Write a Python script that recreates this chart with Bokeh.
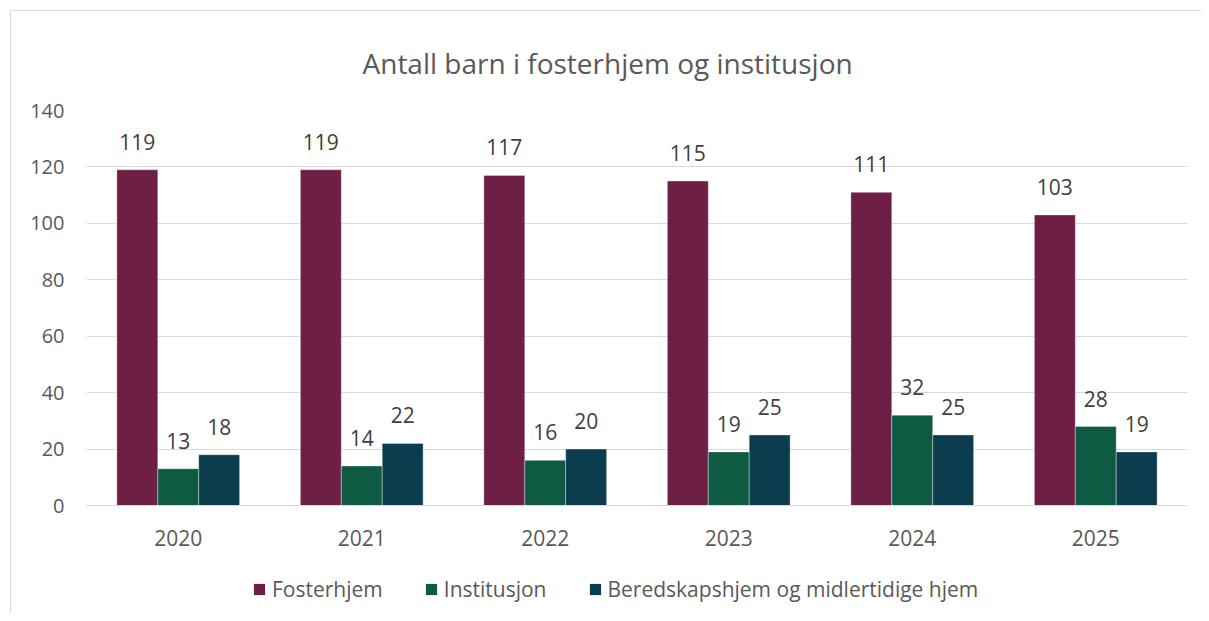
from bokeh.plotting import figure
from bokeh.layouts import column
from bokeh.models import ColumnDataSource, FactorRange, Range1d, Legend, LegendItem
from bokeh.transform import dodge
from bokeh.core.properties import value
from bokeh.embed import file_html
from bokeh.resources import INLINE

years = ["2020", "2021", "2022", "2023", "2024", "2025"]
fosterhjem = [119, 119, 117, 115, 111, 103]
institusjon = [13, 14, 16, 19, 32, 28]
beredskap = [18, 22, 20, 25, 25, 19]
series_names = ["Fosterhjem", "Institusjon", "Beredskapshjem og midlertidige hjem"]
y_ticks = [0, 20, 40, 60, 80, 100, 120, 140]

colors = ["#6D1F46", "#0E5A42", "#0B3D4F"]
FONT = "Open Sans"

src = ColumnDataSource(dict(year=years, f=fosterhjem, i=institusjon, b=beredskap,
                            fl=[str(v) for v in fosterhjem],
                            il=[str(v) for v in institusjon],
                            bl=[str(v) for v in beredskap]))

W = 1190
p = figure(x_range=FactorRange(*years), y_range=Range1d(0, 140),
           width=W, height=548, output_backend="svg", toolbar_location=None,
           title="Antall barn i fosterhjem og institusjon",
           min_border_left=75, min_border_top=99, min_border_right=14, min_border_bottom=54)

p.title.text_font = FONT
p.title.text_font_size = "28px"
p.title.text_font_style = "normal"
p.title.text_color = "#595959"
p.title.align = "left"
p.title.offset = 276
p.title.standoff = 58

p.outline_line_color = None
p.background_fill_color = "white"
p.border_fill_color = "white"

w = 0.223
keys = ["f", "i", "b"]
offsets = [-w, 0, w]
renderers = []
for k, off, c in zip(keys, offsets, colors):
    r = p.vbar(x=dodge("year", off, range=p.x_range), top=k, width=w, source=src,
               fill_color=c, line_color="white", line_alpha=0.35, line_width=1)
    renderers.append(r)
    p.text(x=dodge("year", off, range=p.x_range), y=k, text=k + "l", source=src,
           text_align="center", text_baseline="alphabetic", y_offset=-28,
           text_font=value(FONT), text_font_size="21px", text_color="#404040")

p.xgrid.grid_line_color = None
p.ygrid.grid_line_color = "#D9D9D9"
p.ygrid.grid_line_width = 1

p.yaxis.ticker = y_ticks
p.yaxis.axis_line_color = None
p.yaxis.major_tick_line_color = None
p.yaxis.minor_tick_line_color = None
p.yaxis.major_label_standoff = 16
p.yaxis.major_label_text_font = FONT
p.yaxis.major_label_text_font_size = "20px"
p.yaxis.major_label_text_color = "#595959"

p.xaxis.axis_line_color = "#D9D9D9"
p.xaxis.major_tick_line_color = None
p.xaxis.minor_tick_line_color = None
p.xaxis.major_label_standoff = 18
p.xaxis.major_label_text_font = FONT
p.xaxis.major_label_text_font_size = "21px"
p.xaxis.major_label_text_color = "#595959"

# legend strip below the chart
lg = figure(width=W, height=54, output_backend="svg", toolbar_location=None,
            x_range=Range1d(0, 1), y_range=Range1d(0, 1),
            min_border_left=0, min_border_right=0, min_border_top=0, min_border_bottom=0)
lg.axis.visible = False
lg.xgrid.visible = False
lg.ygrid.visible = False
lg.outline_line_color = None
lg.border_fill_color = "white"
lg_renderers = [lg.vbar(x=[0.5], top=[0], bottom=[0], width=0.0, fill_color=c, line_color=None)
                for c in colors]
legend = Legend(items=[LegendItem(label=n, renderers=[r]) for n, r in zip(series_names, lg_renderers)],
                orientation="horizontal", location=(166, 10),
                border_line_color=None, background_fill_alpha=0,
                glyph_width=14, glyph_height=14, label_standoff=6, spacing=41,
                label_text_font=FONT, label_text_font_size="21px", label_text_color="#595959",
                padding=5, margin=0)
lg.add_layout(legend, "center")

layout = column(p, lg, spacing=0, margin=(10, 0, 0, 10))
layout.styles = {"border-top": "1px solid #D9D9D9", "border-left": "1px solid #D9D9D9"}

open("out.html", "w").write(file_html(layout, INLINE))
